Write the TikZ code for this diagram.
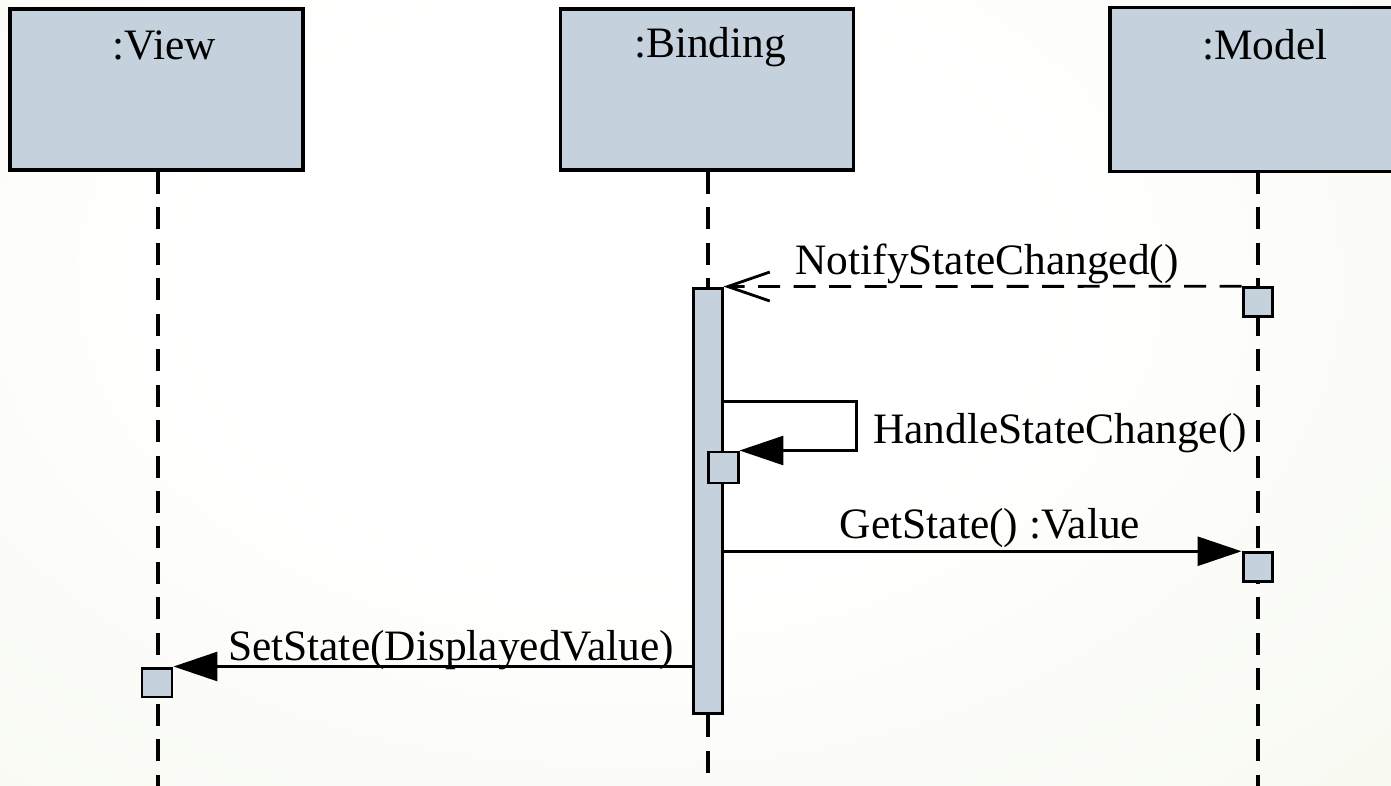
\documentclass[tikz,border=0pt]{standalone}
\usepackage{fontspec}
\setmainfont{Liberation Serif}
\usetikzlibrary{arrows.meta,calc}

\definecolor{boxfill}{RGB}{197,209,220}
\definecolor{bgmid}{RGB}{230,237,210}
\definecolor{bgout}{RGB}{220,229,192}

% soft backdrop: white centre fading to a pale green
\pgfdeclareradialshading{backdrop}{\pgfpoint{0bp}{0bp}}{%
  color(0bp)=(white); color(10bp)=(white); color(62bp)=(bgmid); color(100bp)=(bgout)}

\tikzset{
  lifebox/.style={draw, line width=1.8pt, fill=boxfill, inner sep=0pt,
                  minimum width=5.86cm, minimum height=3.22cm},
  exec/.style={draw, line width=1.7pt, fill=boxfill, inner sep=0pt,
               minimum width=0.58cm, minimum height=0.57cm},
  lifeline/.style={line width=1.8pt, dash pattern=on 0.44cm off 0.27cm},
  msg/.style={line width=1.6pt, -{Triangle[length=0.88cm,width=0.58cm]}},
  reply/.style={line width=1.6pt, dash pattern=on 0.44cm off 0.27cm,
                -{Straight Barb[length=0.84cm,width=0.58cm,line width=1.6pt]}},
  txt/.style={inner sep=0pt, anchor=base, font=\fontsize{24.7}{30}\selectfont},
}

\begin{document}
\begin{tikzpicture}[x=0.02cm, y=-0.02cm]
  \useasboundingbox (0,0) rectangle (1391,786);
  \clip (0,0) rectangle (1391,786);
  \shade[shading=backdrop] (-420,-420) rectangle (1660,980);

  % lifeline heads; the model head runs on past the right edge, so it is
  % filled as a node and outlined on three sides only
  \node[lifebox] (view)  at (156.5,89.5) {};
  \node[lifebox] (bind)  at (707,89.5) {};
  \node[lifebox, draw=none, minimum width=6.0cm, anchor=west] (model) at (1110,89.5) {};
  \draw[line width=1.8pt] ([xshift=1cm]model.north east) -- (model.north west)
    -- (model.south west) -- ([xshift=1cm]model.south east);
  \node[txt] (viewlbl)  at (164,60) {:View};
  \node[txt] (bindlbl)  at (710,58) {:Binding};
  \node[txt] (modellbl) at (1265,60) {:Model};

  % lifeline ends
  \coordinate (vEnd) at (158,792);
  \coordinate (bEnd) at (708,792);
  \coordinate (mEnd) at (1258,792);

  % activation bar on the binding
  \node[exec, minimum width=0.58cm, minimum height=8.52cm] (bar) at (707.5,501) {};

  % dashed lifelines
  \draw[lifeline] (view.south -| vEnd) -- (vEnd);
  \draw[lifeline] (bind.south -| bEnd) -- (bar.north -| bEnd);
  \draw[lifeline] (bar.south -| bEnd) -- (bEnd);
  \draw[lifeline] (model.south -| mEnd) -- (mEnd);

  % execution occurrences
  \node[exec] (m1) at (1257.5,302) {};
  \node[exec] (m2) at (1257.5,567) {};
  \node[exec, minimum width=0.6cm, minimum height=0.62cm] (b1) at (723,467.5) {};
  \node[exec, minimum width=0.6cm, minimum height=0.58cm] (v1) at (157,682.5) {};

  % messages
  \draw[reply] (m1.north west) -- (bar.north east);
  \node[txt] (notify) at (987,275) {NotifyStateChanged()};

  \draw[msg] ([yshift=-2.3cm]bar.north east) -- ++(133,0) |- (b1.north east);
  \node[txt, anchor=base west] (handle) at (873,443) {HandleStateChange()};

  \draw[msg] (bar.east |- m2.north west) -- (m2.north west);
  \node[txt] (getst) at (990,538) {GetState() :Value};

  \draw[msg] (bar.west |- v1.north east) -- (v1.north east);
  \node[txt] (setst) at (451,660) {SetState(DisplayedValue)};
\end{tikzpicture}
\end{document}
